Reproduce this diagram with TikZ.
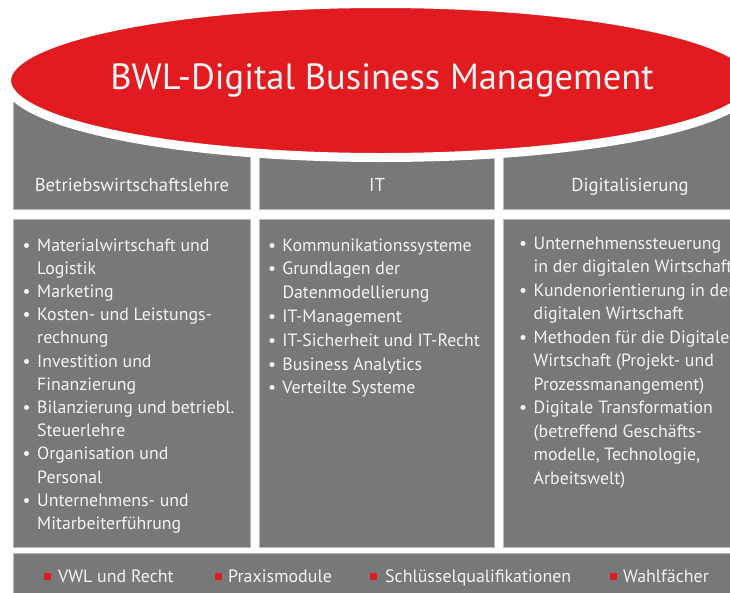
\documentclass[tikz,border=0pt]{standalone}
\usepackage{fontspec}
\setmainfont{PT Sans}
\usetikzlibrary{shapes.geometric,positioning}
\definecolor{bwlred}{HTML}{E11B1F}
\definecolor{bwlgray}{HTML}{77787A}
\definecolor{bwltext}{HTML}{F4F4F4}
\newcommand{\bul}{\makebox[14.5pt][l]{\textbullet}}

\begin{document}
\begin{tikzpicture}
[x=1pt,y=-1pt,
box/.style={fill=bwlgray,draw=gray!55,line width=0.6pt,anchor=north west,inner sep=0pt},
head/.style={text=bwltext,font=\fontsize{18.7}{22}\selectfont,anchor=base,inner sep=0pt},
list/.style={text=bwltext,font=\fontsize{17.8}{#1}\selectfont,anchor=base west,inner sep=0pt},
sqr/.style={fill=bwlred,minimum size=7pt,inner sep=0pt,anchor=south west},
foot/.style={text=bwltext,font=\fontsize{17.9}{20}\selectfont,anchor=base west,inner sep=0pt},]
\useasboundingbox (0,0) rectangle (730,592);
\clip (0,0) rectangle (730,592);

%Header boxes
\node[box,minimum width=237,minimum height=109] (hb1) at (13,100) {};
\node[box,minimum width=235,minimum height=109] (hb2) at (259,100) {};
\node[box,minimum width=240,minimum height=109] (hb3) at (503,100) {};

%Content boxes
\node[box,minimum width=237,minimum height=328] (cb1) at (13,219) {};
\node[box,minimum width=235,minimum height=328] (cb2) at (259,219) {};
\node[box,minimum width=240,minimum height=328] (cb3) at (503,219) {};

%Bottom bar
\node[box,minimum width=730,minimum height=45] (bar) at (13,553) {};

%Drawing ellipse
\node[ellipse,fill=bwlred,draw=white,line width=9pt,minimum width=749,minimum height=154] (oval) at (381,80.5) {};
\node[text=bwltext,font=\fontsize{36.5}{40}\selectfont,anchor=base,inner sep=0pt] (title) at (382,89) {BWL-Digital Business Management};

%Header texts
\node[head] (h1) at (132,191) {Betriebswirtschaftslehre};
\node[head] (h2) at (377,191) {IT};
\node[head] (h3) at (630,191) {Digitalisierung};

%Lists
\node[list=23.2] (l1) at (22.5,251) {\begin{tabular}[t]{@{}l@{}l@{}}
\bul & Materialwirtschaft und\\
 & Logistik\\
\bul & Marketing\\
\bul & Kosten- und Leistungs-\\
 & rechnung\\
\bul & Investition und\\
 & Finanzierung\\
\bul & Bilanzierung und betriebl.\\
 & Steuerlehre\\
\bul & Organisation und\\
 & Personal\\
\bul & Unternehmens- und\\
 & Mitarbeiterführung
\end{tabular}};
\node[list=23.8] (l2) at (267.8,251) {\begin{tabular}[t]{@{}l@{}l@{}}
\bul & Kommunikationssysteme\\
\bul & Grundlagen der\\
 & Datenmodellierung\\
\bul & IT-Management\\
\bul & IT-Sicherheit und IT-Recht\\
\bul & Business Analytics\\
\bul & Verteilte Systeme
\end{tabular}};
\node[list=23.5] (l3) at (519,249) {\begin{tabular}[t]{@{}l@{}l@{}}
\bul & Unternehmenssteuerung\\
 & in der digitalen Wirtschaft\\
\bul & Kundenorientierung in der\\
 & digitalen Wirtschaft\\
\bul & Methoden für die Digitale\\
 & Wirtschaft (Projekt- und\\
 & Prozessmanangement)\\
\bul & Digitale Transformation\\
 & (betreffend Geschäfts-\\
 & modelle, Technologie,\\
 & Arbeitswelt)
\end{tabular}};

%Bottom items
\node[sqr] (s1) at (44,580) {};
\node[foot] (f1) at (58,582) {VWL und Recht};
\node[sqr] (s2) at (215,580) {};
\node[foot] (f2) at (228,582) {Praxismodule};
\node[sqr] (s3) at (370,580) {};
\node[foot] (f3) at (385,582) {Schlüsselqualifikationen};
\node[sqr] (s4) at (610,580) {};
\node[foot] (f4) at (623,582) {Wahlfächer};
\end{tikzpicture}
\end{document}
